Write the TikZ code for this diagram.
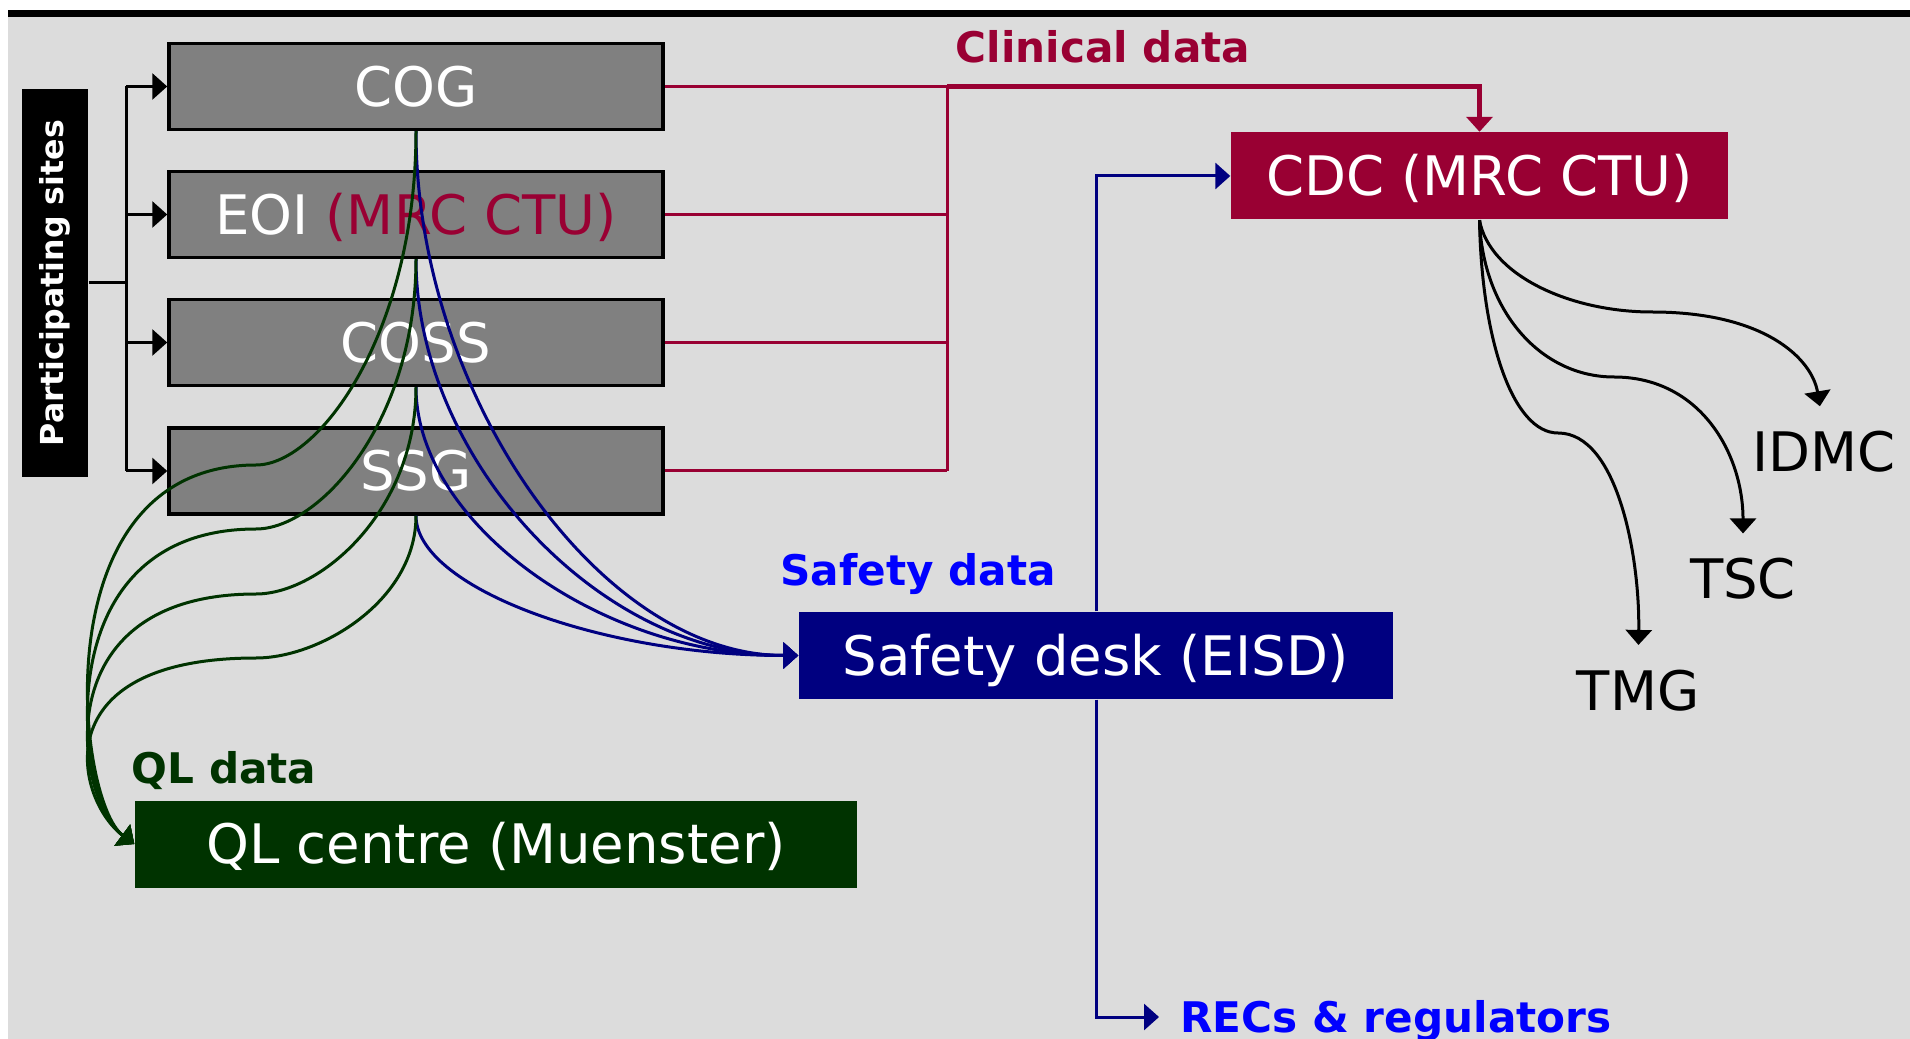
\documentclass[tikz,border=0pt]{standalone}
\usepackage{fontspec}
\setmainfont{DejaVu Sans}
\usetikzlibrary{arrows.meta}
\definecolor{ctured}{HTML}{990033}
\definecolor{eisdblue}{HTML}{000080}
\definecolor{qlgreen}{HTML}{003300}
\definecolor{labelblue}{HTML}{0000FF}
\definecolor{boxgrey}{HTML}{808080}
\definecolor{slidegrey}{HTML}{DCDCDC}
\begin{document}
\begin{tikzpicture}[
			x=0.1mm, y=-0.1mm,
			sitebox/.style={draw, line width=0.35mm, fill=boxgrey, text=white, font=\fontsize{15.5}{18}\selectfont, minimum width=49.4mm, minimum height=8.6mm, text height=11.3pt, text depth=0pt, inner sep=0pt},
			centrebox/.style={text=white, font=\fontsize{15.5}{18}\selectfont, minimum height=8.7mm, text height=11.3pt, text depth=0pt, inner sep=0pt},
			datalabel/.style={font=\bfseries\fontsize{12}{14}\selectfont, inner sep=0pt, anchor=base},
			committee/.style={font=\fontsize{15.5}{18}\selectfont, inner sep=0pt, text height=11.3pt, text depth=0pt},
			arrowed/.style={-{Triangle[length=1.5mm,width=2.6mm]}},
			clinline/.style={draw=ctured, line width=0.3mm},
			safeline/.style={draw=eisdblue, line width=0.3mm},
			qlline/.style={draw=qlgreen, line width=0.3mm},
			cdcline/.style={draw=black, line width=0.3mm, arrowed, shorten >=2.5mm}
		]
		\useasboundingbox (0,0) rectangle (1910,1039);
		\fill[white] (0,0) rectangle (1910,1039);
		\fill[slidegrey] (8,17) rectangle (1910,1039);
		\fill[black] (8,10) rectangle (1910,17);

		\node[sitebox] (cog) at (416,86.5) {COG};
		\node[sitebox] (eoi) at (416,214.5) {EOI \textcolor{ctured}{(MRC CTU)}};
		\node[sitebox] (coss) at (416,342.5) {COSS};
		\node[sitebox] (ssg) at (416,471) {SSG};
		\node[fill=black, text=white, font=\bfseries\fontsize{9}{11}\selectfont, rotate=90, minimum width=38.8mm, minimum height=6.6mm, inner sep=0pt] (sites) at (55,283) {Participating sites};

		\node[centrebox, fill=ctured, minimum width=49.7mm] (cdc) at (1479.5,176) {CDC (MRC CTU)};
		\node[centrebox, fill=eisdblue, minimum width=59.4mm] (eisd) at (1096,655.5) {Safety desk (EISD)};
		\node[centrebox, fill=qlgreen, minimum width=72.2mm] (ql) at (496,844) {QL centre (Muenster)};

		\node[datalabel, text=ctured] (clinlbl) at (1103,63) {Clinical data};
		\node[datalabel, text=labelblue] (safelbl) at (918,585) {Safety data};
		\node[datalabel, text=qlgreen] (qllbl) at (224,783) {QL data};
		\node[datalabel, text=labelblue] (recs) at (1396,1032) {RECs \& regulators};

		\node[committee] (idmc) at (1824,451.5) {IDMC};
		\node[committee] (tsc) at (1743,579) {TSC};
		\node[committee] (tmg) at (1638,690.5) {TMG};

		\coordinate (bus) at (126,283);
		\coordinate (redbus) at (947,86.5);
		\coordinate (recsin) at (1159,1017);

		\draw[line width=0.3mm] (sites.south) -- (bus);
		\draw[line width=0.3mm] (bus |- cog.west) -- (bus |- ssg.west);
		\foreach \b in {cog,eoi,coss,ssg}
			\draw[line width=0.3mm, arrowed] (bus |- \b.west) -- (\b.west);

		\foreach \b in {cog,eoi,coss,ssg}
			\draw[clinline] (\b.east) -- (redbus |- \b.east);
		\draw[clinline] (redbus) -- (redbus |- ssg.east);
		\draw[clinline, line width=0.5mm, arrowed] (redbus) -| (cdc.north);

		\draw[safeline, arrowed] (eisd.north) |- (cdc.west);
		\draw[safeline, arrowed] (eisd.south) |- (recsin);

		\foreach \b/\dy in {cog/263, eoi/199, coss/135, ssg/71}
			\draw[safeline, arrowed] (\b.south) .. controls +(0,\dy) and +(-199,0) .. (eisd.west);

		\foreach \b/\dy/\sh in {cog/200/465, eoi/162/529, coss/124/594, ssg/85/658}
			\draw[qlline, arrowed] (\b.south) .. controls +(0,\dy) and +(64,0) .. (256,\sh) .. controls +(-216,0) and +(-58,-43) .. (ql.west);

		\draw[cdcline] (cdc.south) .. controls +(10,55) and +(-82,0) .. (1652,312) .. controls +(113,0) and +(-12,-72) .. (idmc.north);
		\draw[cdcline] (cdc.south) .. controls +(3,90) and +(-74,0) .. (1614,377) .. controls +(86,0) and +(0,-105) .. (tsc.north);
		\draw[cdcline] (cdc.south) .. controls +(2,120) and +(-45,0) .. (1558,433) .. controls +(60,0) and +(2,-111) .. (tmg.north);
	\end{tikzpicture}
\end{document}
